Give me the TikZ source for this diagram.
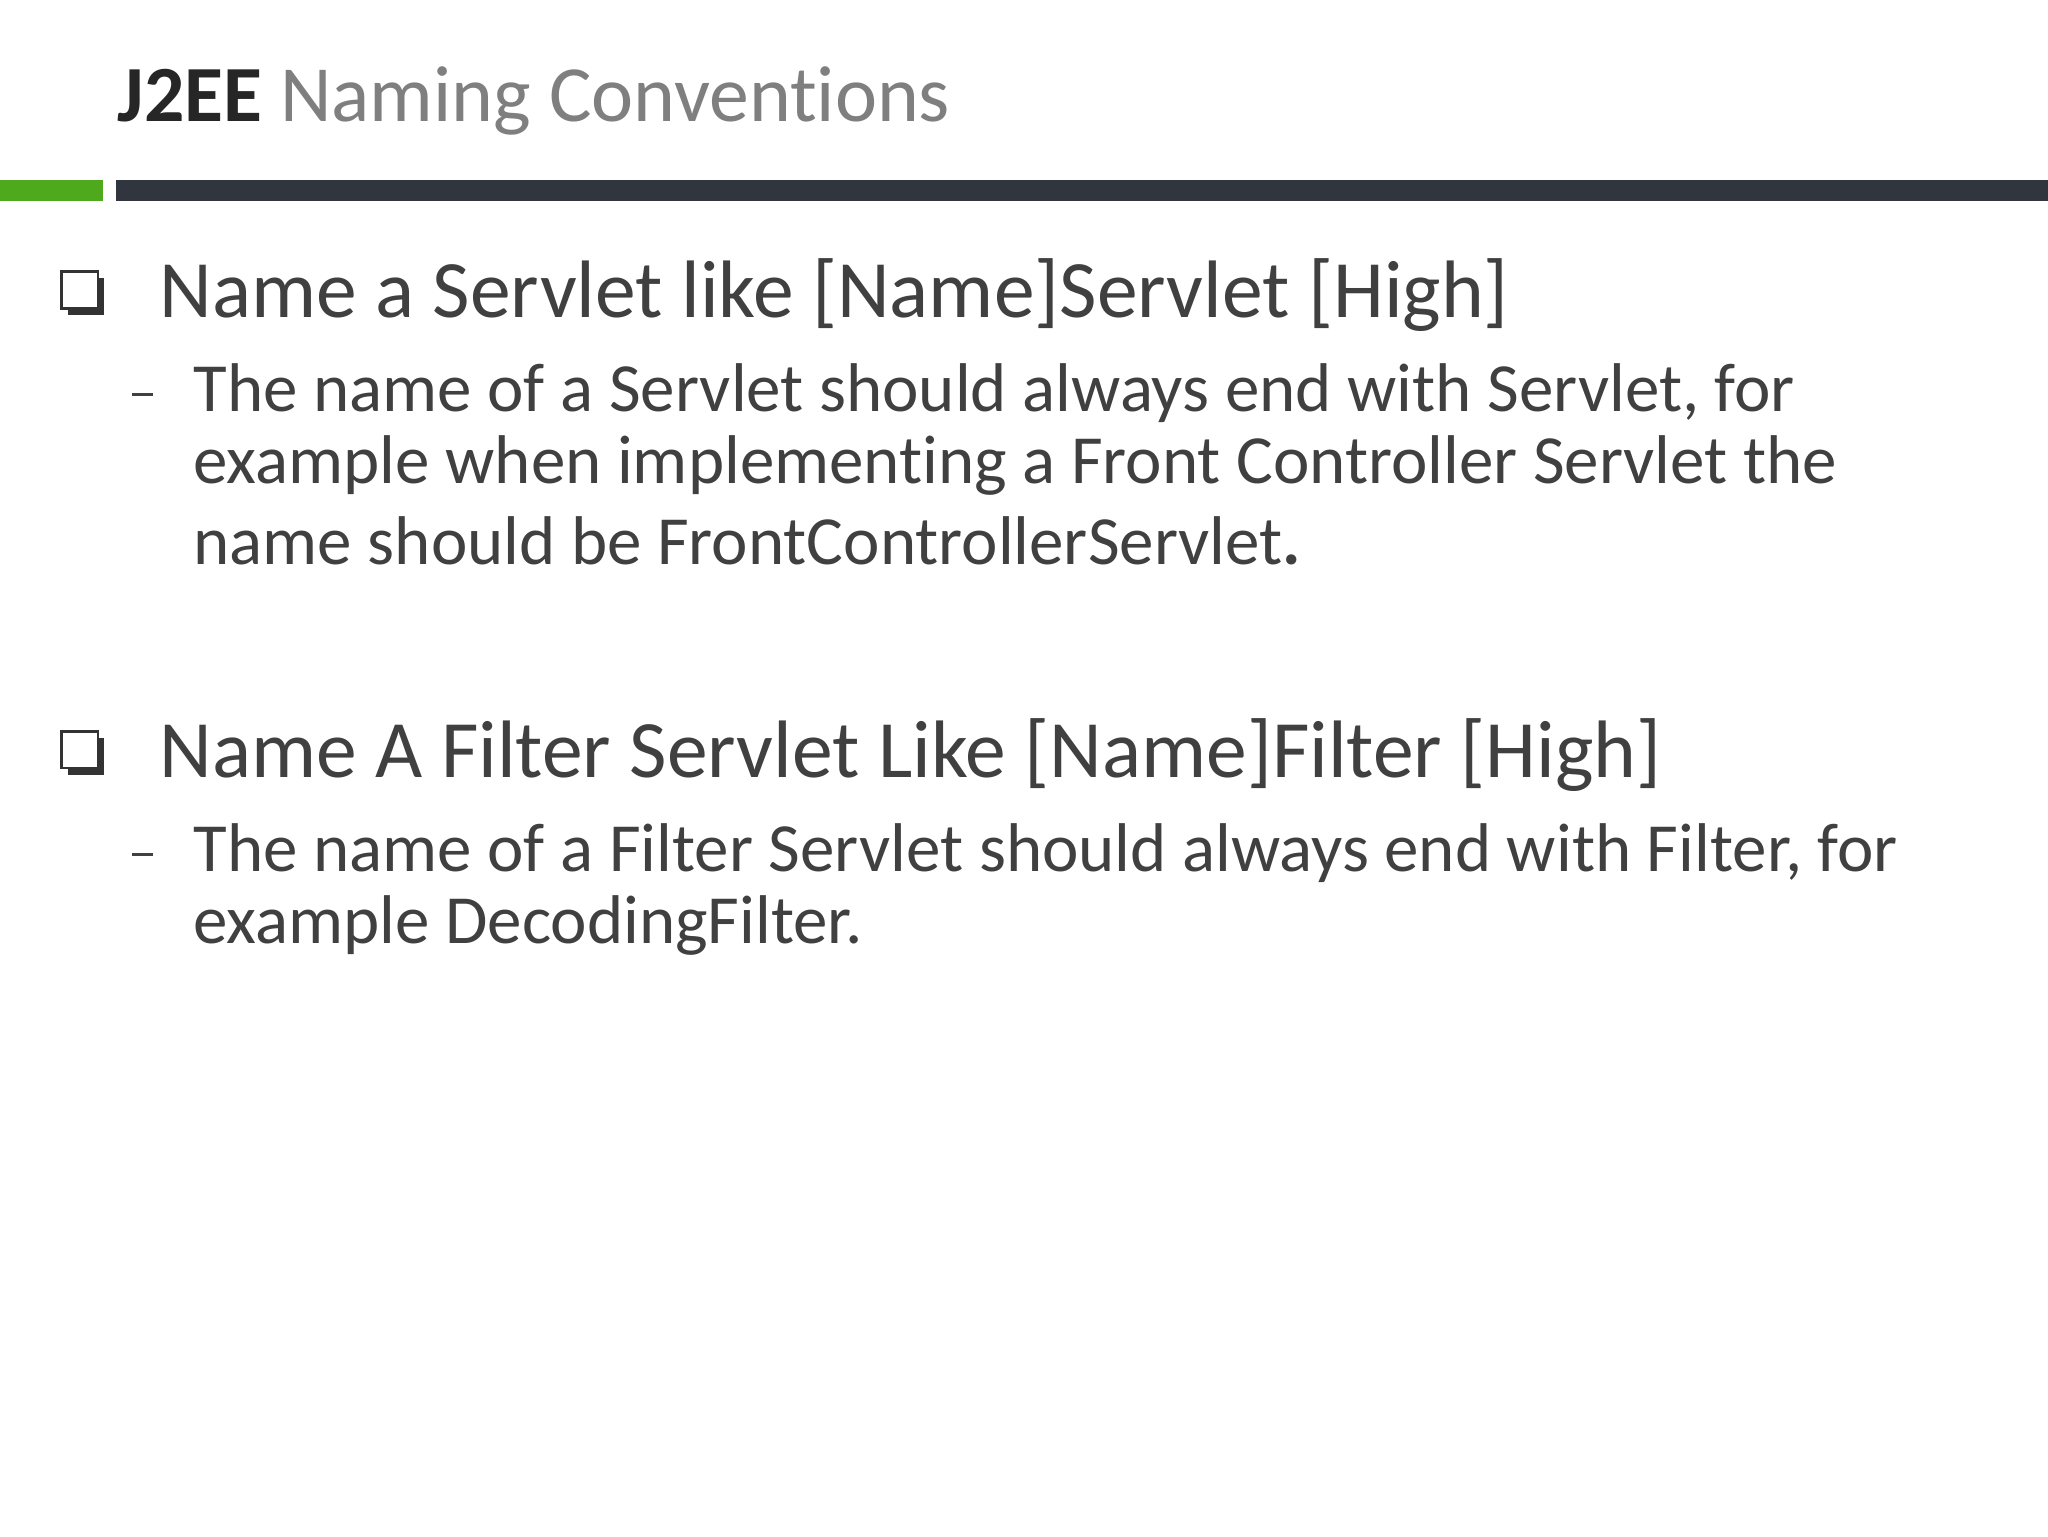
\documentclass[tikz,border=0pt]{standalone}
\usepackage{fontspec}
\setmainfont{Carlito}[Ligatures={NoCommon}]
\definecolor{txt}{HTML}{404040}
\definecolor{ttlgray}{HTML}{7F7F7F}
\definecolor{ttldark}{HTML}{262626}
\definecolor{barg}{HTML}{4EA91C}
\definecolor{bard}{HTML}{30353E}
\tikzset{
  head/.style={anchor=base west, inner sep=0pt, text=txt, font=\fontsize{62.4}{64}\selectfont},
  sub/.style={anchor=base west, inner sep=0pt, text=txt, font=\fontsize{52.8}{54}\selectfont},
  dashmark/.style={draw=txt, line width=2.2pt},
}
\begin{document}
\begin{tikzpicture}[x=1pt,y=-1pt]
\useasboundingbox (0,0) rectangle (1568,1176);
\fill[white] (0,0) rectangle (1568,1176);
% title
\node[anchor=base west, inner sep=0pt, font=\fontsize{61}{63}\selectfont] (title) at (90,93)
  {\textcolor{ttldark}{\bfseries J2EE} \textcolor{ttlgray}{Naming Conventions}};
% bars
\fill[barg] (0,138) rectangle (79,154);
\fill[bard] (89,138) rectangle (1568,154);
% checkbox 1
\fill[black!80] (52,213) rectangle (80,241);
\filldraw[fill=white, draw=black!80, line width=2pt] (47,208) rectangle (75,236);
\node[head] (h1) at (122,243) {Name a Servlet like [Name]Servlet [High]};
\draw[dashmark] (101,302) -- (117,302);
\node[sub] (s1a) at (148,315) {The name of a Servlet should always end with Servlet, for};
\node[sub] (s1b) at (148,370) {example when implementing a Front Controller Servlet the};
\node[sub] (s1c) at (148,432) {name should be FrontControllerServlet\textbf{.}};
% checkbox 2
\fill[black!80] (52,565) rectangle (80,593);
\filldraw[fill=white, draw=black!80, line width=2pt] (47,560) rectangle (75,588);
\node[head] (h2) at (122,595) {Name A Filter Servlet Like [Name]Filter [High]};
\draw[dashmark] (101,654) -- (117,654);
\node[sub] (s2a) at (148,667) {The name of a Filter Servlet should always end with Filter, for};
\node[sub] (s2b) at (148,722) {example DecodingFilter.};
\end{tikzpicture}
\end{document}
